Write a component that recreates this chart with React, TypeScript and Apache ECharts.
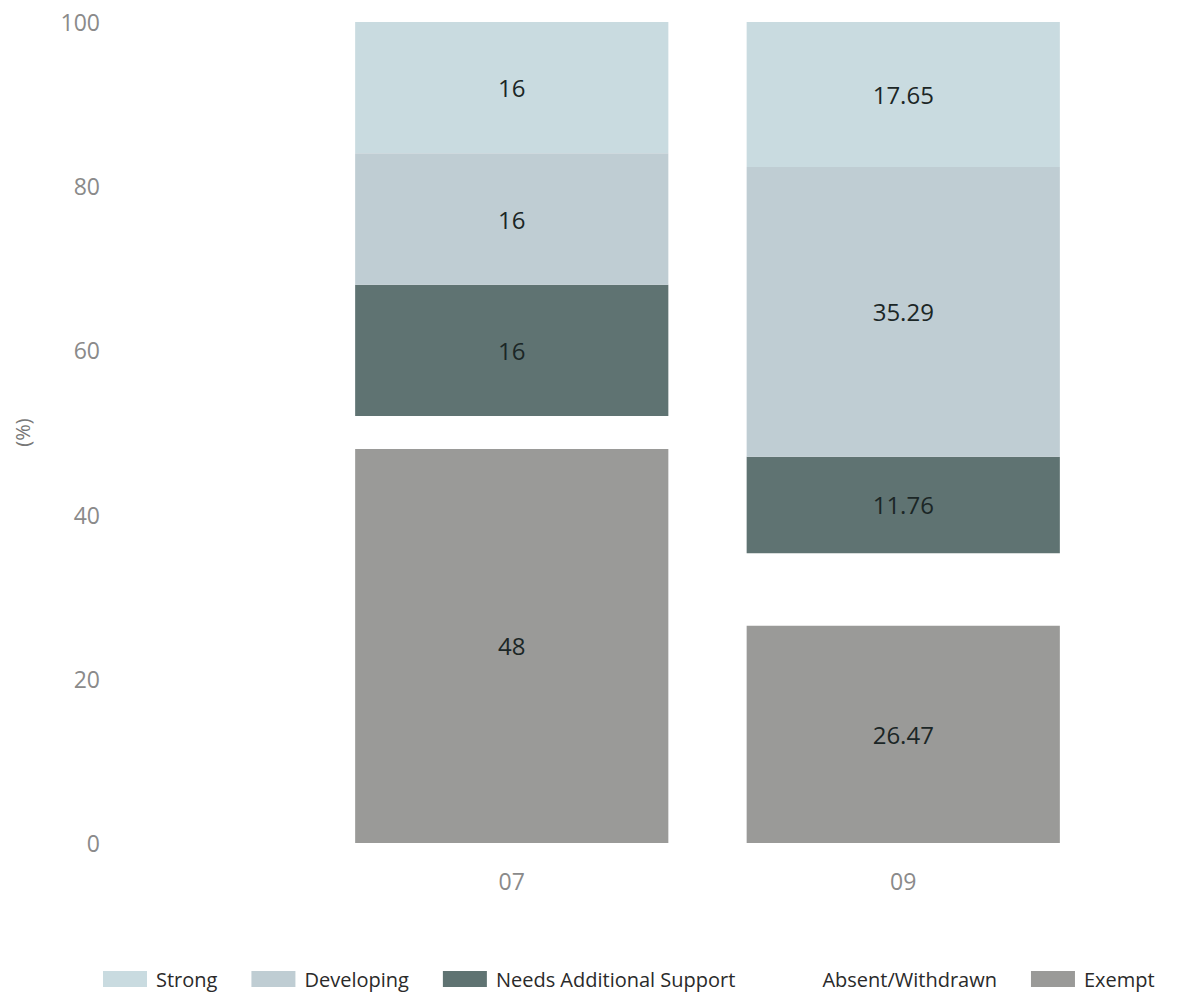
import React, { useEffect, useRef } from "react";
import * as echarts from "echarts";

const categories = ["07", "09"];
const exempt = [48, 26.47];
const absentWithdrawn = [4, 8.82];
const needsSupport = [16, 11.76];
const developing = [16, 35.29];
const strong = [16, 17.65];
const yTicks = [0, 20, 40, 60, 80, 100];

const legendOrder = ["Strong", "Developing", "Needs Additional Support", "Absent/Withdrawn", "Exempt"];

const FONT = "'Open Sans', 'Noto Sans', sans-serif";

export default function App() {
  const ref = useRef<HTMLDivElement>(null);

  useEffect(() => {
    if (!ref.current) return;
    const chart = echarts.init(ref.current, undefined, { renderer: "svg" });

    const label = {
      show: true,
      position: "inside",
      color: "#1b2626",
      fontSize: 24,
      fontFamily: FONT,
      formatter: (p: any) => String(p.value),
    };

    const bar = (name: string, data: number[], color: string, showLabel = true) => ({
      name,
      type: "bar",
      stack: "total",
      data,
      barCategoryGap: "20%",
      itemStyle: { color },
      label: showLabel ? label : { show: false },
      emphasis: { disabled: true },
    });

    chart.setOption({
      animation: false,
      backgroundColor: "#ffffff",
      grid: { left: 316, right: 81, top: 22, bottom: 152 },
      legend: {
        data: legendOrder,
        left: 98,
        top: 964,
        icon: "rect",
        itemWidth: 44,
        itemHeight: 16,
        itemGap: 34,
        textStyle: { fontSize: 20, color: "#2a2a2a", fontFamily: FONT, padding: [0, 0, 0, 4] },
        selectedMode: false,
      },
      xAxis: {
        type: "category",
        data: categories,
        axisLine: { show: false },
        axisTick: { show: false },
        axisLabel: { fontSize: 23, color: "#8a8a8a", fontFamily: FONT, margin: 26 },
      },
      yAxis: {
        type: "value",
        min: yTicks[0],
        max: yTicks[yTicks.length - 1],
        interval: 20,
        name: "(%)",
        nameLocation: "middle",
        nameGap: 284,
        nameTextStyle: { fontSize: 20, color: "#777", fontFamily: FONT },
        axisLine: { show: false },
        axisTick: { show: false },
        splitLine: { show: false },
        axisLabel: { fontSize: 23, color: "#8a8a8a", fontFamily: FONT, margin: 216 },
      },
      series: [
        bar("Exempt", exempt, "#9a9a98"),
        bar("Absent/Withdrawn", absentWithdrawn, "rgba(255,255,255,0)", false),
        bar("Needs Additional Support", needsSupport, "#5f7372"),
        bar("Developing", developing, "#bfcdd3"),
        bar("Strong", strong, "#c9dbe0"),
      ],
    });

    return () => chart.dispose();
  }, []);

  return (
    <div
      ref={ref}
      style={{ position: "fixed", left: 0, top: 0, width: 1180, height: 995, background: "#fff" }}
    />
  );
}
